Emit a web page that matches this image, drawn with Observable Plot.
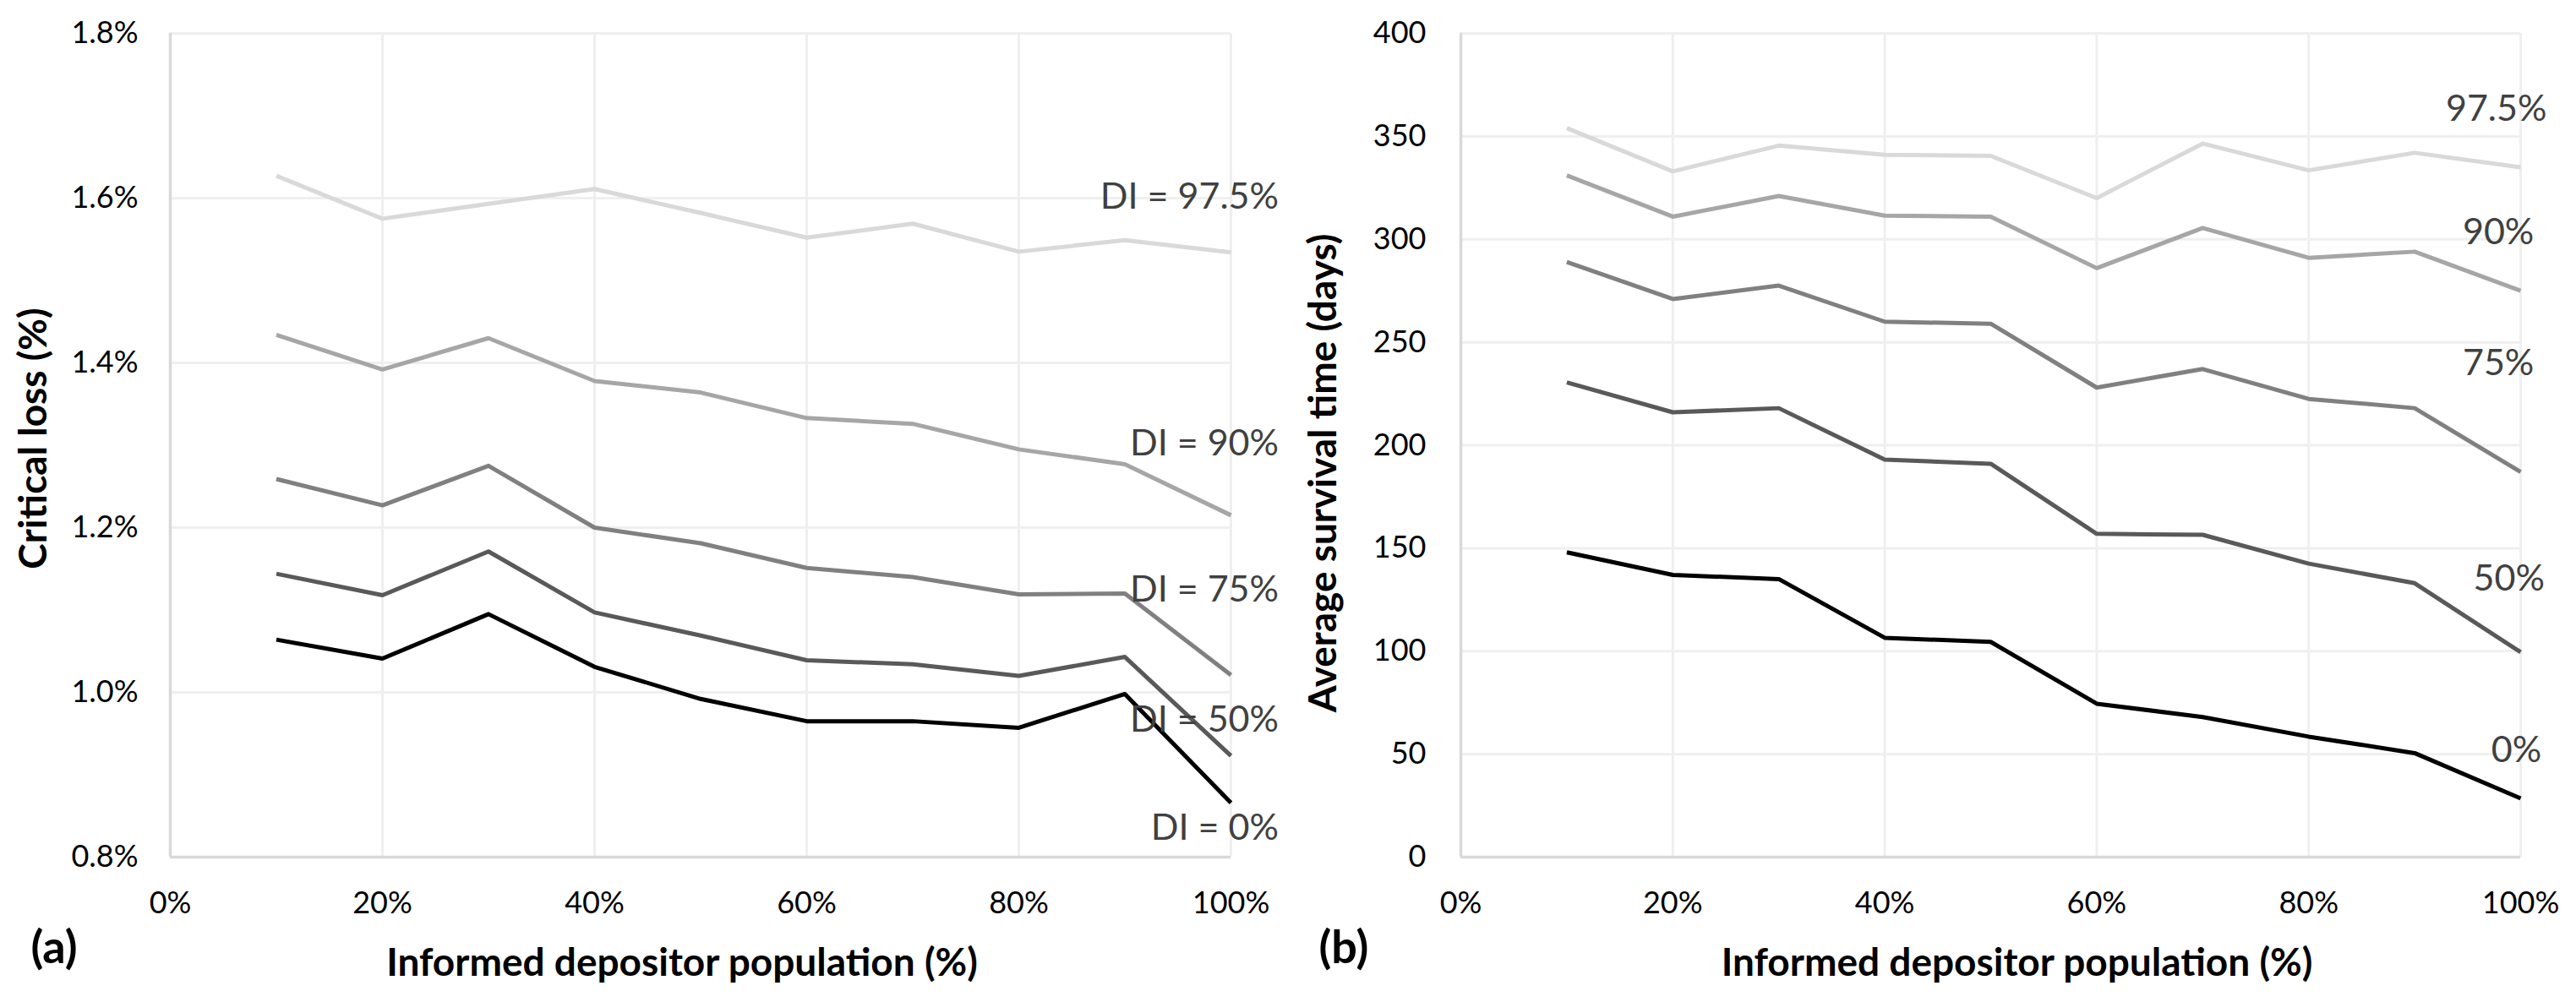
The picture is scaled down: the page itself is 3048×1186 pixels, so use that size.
<!DOCTYPE html>
<html>
<head>
<meta charset="utf-8">
<script src="https://cdn.jsdelivr.net/npm/d3@7"></script>
<script src="https://cdn.jsdelivr.net/npm/@observablehq/plot@0.6"></script>
<style>
  html, body { margin: 0; padding: 0; background: #fff; }
  #wrap { display: flex; width: 3048px; height: 1186px; }
  #wrap svg { display: block; }
</style>
</head>
<body>
<div id="wrap"></div>
<script>
// ---- data ----
const xValues = [10, 20, 30, 40, 50, 60, 70, 80, 90, 100];   // informed depositor population (%)
const seriesNames = ["97.5%", "90%", "75%", "50%", "0%"];
const seriesColors = ["#d9d9d9", "#a6a6a6", "#808080", "#595959", "#000000"];

// (a) Critical loss (%)
const lossDI975 = [1.627, 1.575, 1.593, 1.611, 1.582, 1.552, 1.569, 1.535, 1.549, 1.534];
const lossDI90  = [1.434, 1.392, 1.430, 1.378, 1.364, 1.333, 1.326, 1.295, 1.277, 1.215];
const lossDI75  = [1.259, 1.227, 1.275, 1.200, 1.181, 1.151, 1.140, 1.119, 1.120, 1.021];
const lossDI50  = [1.144, 1.118, 1.171, 1.097, 1.069, 1.039, 1.034, 1.020, 1.043, 0.923];
const lossDI0   = [1.064, 1.041, 1.095, 1.031, 0.992, 0.965, 0.965, 0.957, 0.998, 0.866];

// (b) Average survival time (days)
const survDI975 = [354, 333, 345.5, 341, 340.5, 320, 346.5, 333.5, 342, 335];
const survDI90  = [331, 311, 321, 311.5, 311, 286, 305.5, 291, 294, 275];
const survDI75  = [289, 271, 277.5, 260, 259, 228, 237, 222.5, 218, 187];
const survDI50  = [230.5, 216, 218, 193, 191, 157, 156.5, 142.5, 133, 99.5];
const survDI0   = [148, 137, 135, 106.5, 104.5, 74.5, 68, 58.5, 50.5, 28.5];

// tick values
const xTicks = [0, 20, 40, 60, 80, 100];
const yTicksA = [0.8, 1.0, 1.2, 1.4, 1.6, 1.8];
const yTicksB = [0, 50, 100, 150, 200, 250, 300, 350, 400];

// series labels and their anchor points (data units)
const labelsA = ["DI = 97.5%", "DI = 90%", "DI = 75%", "DI = 50%", "DI = 0%"];
const labelAX = [104.5, 104.5, 104.5, 104.5, 104.5];
const labelAY = [1.601, 1.3015, 1.124, 0.966, 0.835];
const labelsB = ["97.5%", "90%", "75%", "50%", "0%"];
const labelBX = [97.7, 97.9, 97.9, 98.9, 99.6];
const labelBY = [363, 303.3, 239.8, 135.2, 52];

const titleX = "Informed depositor population (%)";
const titleYA = "Critical loss (%)";
const titleYB = "Average survival time (days)";

// ---- build ----
function tidy(seriesArrays) {
  const rows = [];
  seriesArrays.forEach((arr, si) => {
    arr.forEach((v, i) => rows.push({x: xValues[i], y: v, s: seriesNames[si]}));
  });
  return rows;
}

function chart({rows, yDomain, yTicks, yFormat, labels, lx, ly, anchor, ml, mr, tickPad, yTitle, yTitleDx, yTitleDy, xTitleDx, panel}) {
  const labelRows = labels.map((t, i) => ({t, x: lx[i], y: ly[i]}));
  return Plot.plot({
    width: 1524, height: 1186,
    marginLeft: ml, marginRight: mr, marginTop: 39, marginBottom: 172,
    style: {fontFamily: "Lato, 'Open Sans', sans-serif", fontSize: "36px", color: "#000", background: "#fff", overflow: "visible"},
    x: {domain: [0, 100]},
    y: {domain: yDomain},
    color: {type: "ordinal", domain: seriesNames, range: seriesColors},
    marks: [
      Plot.gridX(xTicks, {stroke: "#efefef", strokeOpacity: 1, strokeWidth: 3}),
      Plot.gridY(yTicks, {stroke: "#efefef", strokeOpacity: 1, strokeWidth: 3}),
      Plot.ruleX([0], {stroke: "#d9d9d9", strokeWidth: 3.5}),
      Plot.ruleY([yDomain[0]], {stroke: "#d9d9d9", strokeWidth: 3.5}),
      Plot.axisX(xTicks, {tickSize: 0, tickPadding: 41, tickFormat: d => d + "%", label: null, fontSize: 36}),
      Plot.axisY(yTicks, {tickSize: 0, tickPadding: tickPad, tickFormat: yFormat, label: null, fontSize: 36}),
      Plot.line(rows, {x: "x", y: "y", z: "s", stroke: "s", strokeWidth: 5, strokeLinejoin: "round", strokeLinecap: "butt"}),
      Plot.text(labelRows, {x: "x", y: "y", text: "t", textAnchor: anchor, fill: "#404040", fontSize: 43}),
      Plot.text([titleX], {frameAnchor: "bottom", textAnchor: "middle", lineAnchor: "middle", dx: xTitleDx, dy: 126, fontSize: 46, fontWeight: "bold", fill: "#000"}),
      Plot.text([yTitle], {frameAnchor: "left", textAnchor: "middle", lineAnchor: "middle", rotate: -90, dx: yTitleDx, dy: yTitleDy, fontSize: 46, fontWeight: "bold", fill: "#000"}),
      Plot.text([panel], {frameAnchor: "bottom-left", textAnchor: "start", lineAnchor: "middle", dx: 36 - ml, dy: 108, fontSize: 54, fontWeight: "bold", fill: "#000"})
    ]
  });
}

const wrap = document.getElementById("wrap");
wrap.append(chart({
  rows: tidy([lossDI975, lossDI90, lossDI75, lossDI50, lossDI0]),
  yDomain: [0.8, 1.8], yTicks: yTicksA, yFormat: d => d.toFixed(1) + "%",
  labels: labelsA, lx: labelAX, ly: labelAY, anchor: "end",
  ml: 201, mr: 68, tickPad: 38,
  yTitle: titleYA, yTitleDx: -161, yTitleDy: -8, xTitleDx: -22, panel: "(a)"
}));
wrap.append(chart({
  rows: tidy([survDI975, survDI90, survDI75, survDI50, survDI0]),
  yDomain: [0, 400], yTicks: yTicksB, yFormat: d => String(d),
  labels: labelsB, lx: labelBX, ly: labelBY, anchor: "middle",
  ml: 204, mr: 66, tickPad: 41,
  yTitle: titleYB, yTitleDx: -162, yTitleDy: 33, xTitleDx: 31, panel: "(b)"
}));
</script>
</body>
</html>
